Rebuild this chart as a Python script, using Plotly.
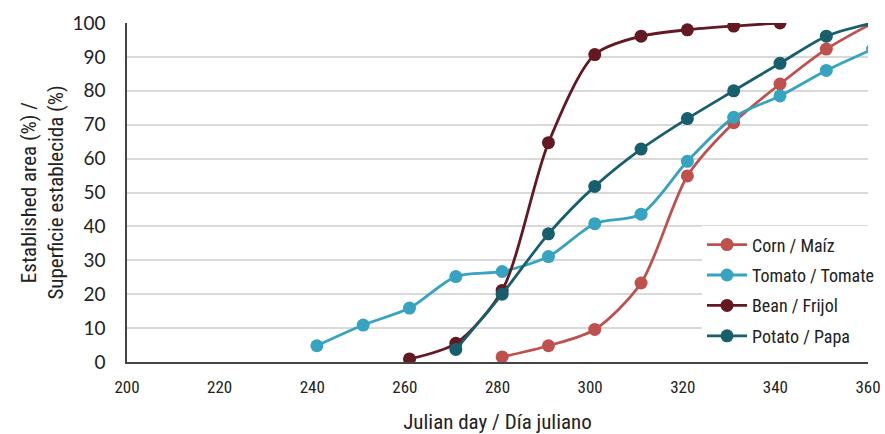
import plotly.graph_objects as go

# Data
corn_x = [281, 291, 301, 311, 321, 331, 341, 351, 361]
corn_y = [1.5, 4.8, 9.6, 23.3, 54.9, 70.6, 82.0, 92.3, 100.0]

tomato_x = [241, 251, 261, 271, 281, 291, 301, 311, 321, 331, 341, 351, 361]
tomato_y = [4.8, 10.9, 15.9, 25.2, 26.7, 31.1, 40.8, 43.6, 59.2, 72.2, 78.5, 86.0, 92.3]

bean_x = [261, 271, 281, 291, 301, 311, 321, 331, 341]
bean_y = [0.9, 5.5, 21.1, 64.7, 90.7, 96.1, 98.0, 99.1, 100.0]

potato_x = [271, 281, 291, 301, 311, 321, 331, 341, 351, 361]
potato_y = [3.7, 20.0, 37.8, 51.8, 62.8, 71.8, 80.0, 88.1, 96.1, 100.0]

series_names = ["Corn / Maíz", "Tomato / Tomate", "Bean / Frijol", "Potato / Papa"]
series_colors = ["#C0504D", "#36A3C0", "#641821", "#185F6D"]

x_ticks = [200, 220, 240, 260, 280, 300, 320, 340, 360]
y_ticks = [0, 10, 20, 30, 40, 50, 60, 70, 80, 90, 100]

NARROW = "Liberation Sans Narrow, Roboto Condensed, Arial Narrow, Roboto, sans-serif"

fig = go.Figure()
for name, xs, ys, col in zip(series_names,
                             [corn_x, tomato_x, bean_x, potato_x],
                             [corn_y, tomato_y, bean_y, potato_y],
                             series_colors):
    fig.add_trace(go.Scatter(
        x=xs, y=ys, name=name, mode="lines+markers",
        line=dict(color=col, width=2.8, shape="spline", smoothing=0.8),
        marker=dict(color=col, size=13),
        legendgroup=name,
    ))

fig.update_layout(
    width=885, height=434,
    margin=dict(l=127, r=17, t=23, b=72, autoexpand=False),
    paper_bgcolor="white", plot_bgcolor="white",
    showlegend=True,
    legend=dict(x=0.776, y=0.40, xanchor="left", yanchor="top",
                bgcolor="white", font=dict(family=NARROW, size=18, color="#222222"),
                tracegroupgap=4, itemwidth=40),
    xaxis=dict(range=[200, 360], tickvals=x_ticks, showgrid=False,
               showline=True, linecolor="#444444", linewidth=1.5,
               ticks="", zeroline=False, ticklabelstandoff=9, automargin=False,
               tickfont=dict(family=NARROW, size=17, color="#222222"),
               title=dict(text="Julian day / Día juliano",
                          font=dict(family=NARROW, size=21, color="#222222"),
                          standoff=20)),
    yaxis=dict(range=[0, 100], tickvals=y_ticks, showgrid=True,
               gridcolor="#D9D9D9", gridwidth=1.5,
               showline=True, linecolor="#444444", linewidth=1.5,
               ticks="", zeroline=False, ticklabelstandoff=16, automargin=False,
               tickfont=dict(family="Lato, Open Sans, sans-serif", size=19, color="#222222"),
               title=dict(text="Established area (%) /<br>Superficie establecida (%)",
                          font=dict(family=NARROW, size=21, color="#222222"),
                          standoff=3)),
)

fig.write_html("out.html", config={"displayModeBar": False},
               post_script="document.body.style.margin='0px';")
